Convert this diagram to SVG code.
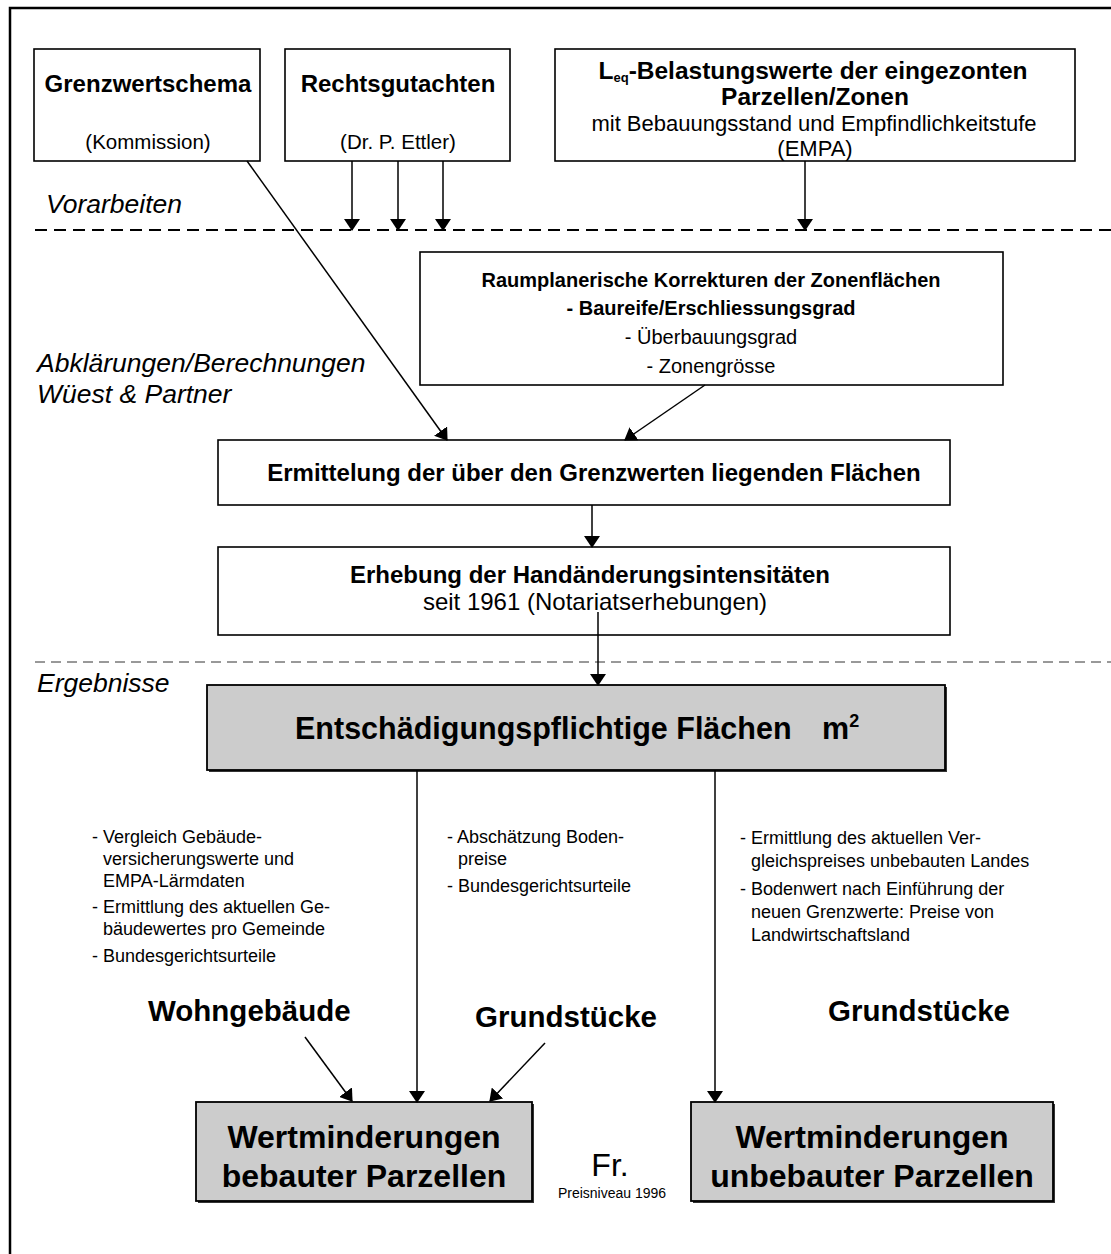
<svg xmlns="http://www.w3.org/2000/svg" width="1111" height="1254" viewBox="0 0 1111 1254">
  <style>
    .box { fill: #ffffff; stroke: #000000; stroke-width: 1.6; }
    .grey { fill: #cccccc; stroke: #000000; stroke-width: 1.8; }
    .shadow { fill: #333333; }
    .conn { stroke: #000000; stroke-width: 1.5; fill: none; }
    .t { font-family: "Liberation Sans", Arial, sans-serif; fill: #000000; }
    .b { font-weight: bold; }
    .i { font-style: italic; }
    .c { text-anchor: middle; }
    .phase { font-size: 26.5px; }
    .item { font-size: 18px; }
    .label { font-size: 29.5px; font-weight: bold; }
  </style>
  <defs>
    <marker id="arrow" markerWidth="12" markerHeight="16" refX="11" refY="8" orient="auto" markerUnits="userSpaceOnUse">
      <path d="M0,0 L12,8 L0,16 Z" fill="#000000"/>
    </marker>
  </defs>

  <rect width="1111" height="1254" fill="#ffffff"/>
  <!-- outer frame, open to the right and bottom -->
  <rect x="10" y="8" width="1120" height="1270" fill="none" stroke="#000000" stroke-width="2.5"/>

  <!-- phase separators -->
  <line x1="35" y1="230" x2="1111" y2="230" stroke="#000000" stroke-width="2" stroke-dasharray="12,7"/>
  <line x1="35" y1="662" x2="1111" y2="662" stroke="#333333" stroke-width="1" stroke-dasharray="10,6"/>

  <!-- phase labels -->
  <text class="t i phase" x="46" y="213">Vorarbeiten</text>
  <text class="t i phase" x="37" y="372">Abklärungen/Berechnungen</text>
  <text class="t i phase" x="37" y="403">Wüest &amp; Partner</text>
  <text class="t i phase" x="37" y="692">Ergebnisse</text>

  <g id="grenzwertschema">
    <rect class="box" x="34" y="49" width="226" height="112"/>
    <text class="t b c" x="148" y="92" font-size="24">Grenzwertschema</text>
    <text class="t c" x="148" y="149" font-size="20.5">(Kommission)</text>
  </g>

  <g id="rechtsgutachten">
    <rect class="box" x="285" y="49" width="225" height="112"/>
    <text class="t b c" x="398" y="92" font-size="24">Rechtsgutachten</text>
    <text class="t c" x="398" y="149" font-size="20.5">(Dr. P. Ettler)</text>
  </g>

  <g id="belastungswerte">
    <rect class="box" x="555" y="49" width="520" height="112"/>
    <text class="t b c" x="813" y="79" font-size="24.5">L<tspan font-size="13" dy="3">eq</tspan><tspan dy="-3">-Belastungswerte der eingezonten</tspan></text>
    <text class="t b c" x="815" y="105" font-size="24.5">Parzellen/Zonen</text>
    <text class="t c" x="814" y="131" font-size="22">mit Bebauungsstand und Empfindlichkeitstufe</text>
    <text class="t c" x="815" y="156" font-size="22">(EMPA)</text>
  </g>

  <g id="raumplanung">
    <rect class="box" x="420" y="252" width="583" height="133"/>
    <text class="t b c" x="711" y="287" font-size="20">Raumplanerische Korrekturen der Zonenflächen</text>
    <text class="t b c" x="711" y="315" font-size="20">- Baureife/Erschliessungsgrad</text>
    <text class="t c" x="711" y="344" font-size="20">- Überbauungsgrad</text>
    <text class="t c" x="711" y="373" font-size="20">- Zonengrösse</text>
  </g>

  <g id="ermittelung">
    <rect class="box" x="218" y="440" width="732" height="65"/>
    <text class="t b c" x="594" y="481" font-size="24">Ermittelung der über den Grenzwerten liegenden Flächen</text>
  </g>

  <g id="erhebung">
    <rect class="box" x="218" y="547" width="732" height="88"/>
    <text class="t b c" x="590" y="583" font-size="24">Erhebung der Handänderungsintensitäten</text>
    <text class="t c" x="595" y="610" font-size="24">seit 1961 (Notariatserhebungen)</text>
  </g>

  <g id="entschaedigung">
    <rect class="shadow" x="209" y="687" width="738" height="85"/>
    <rect class="grey" x="207" y="685" width="738" height="85"/>
    <text class="t b" x="295" y="739" font-size="30.5">Entschädigungspflichtige Flächen</text>
    <text class="t b" x="822" y="739" font-size="30.5">m<tspan font-size="18" dy="-12">2</tspan></text>
  </g>

  <g id="massnahmen-bebaut">
    <text class="t item" x="92" y="843">- Vergleich Gebäude-</text>
    <text class="t item" x="103" y="865">versicherungswerte und</text>
    <text class="t item" x="103" y="887">EMPA-Lärmdaten</text>
    <text class="t item" x="92" y="913">- Ermittlung des aktuellen Ge-</text>
    <text class="t item" x="103" y="935">bäudewertes pro Gemeinde</text>
    <text class="t item" x="92" y="962">- Bundesgerichtsurteile</text>
  </g>

  <g id="massnahmen-boden">
    <text class="t item" x="447" y="843">- Abschätzung Boden-</text>
    <text class="t item" x="458" y="865">preise</text>
    <text class="t item" x="447" y="892">- Bundesgerichtsurteile</text>
  </g>

  <g id="massnahmen-unbebaut">
    <text class="t item" x="740" y="844">- Ermittlung des aktuellen Ver-</text>
    <text class="t item" x="751" y="867">gleichspreises unbebauten Landes</text>
    <text class="t item" x="740" y="895">- Bodenwert nach Einführung der</text>
    <text class="t item" x="751" y="918">neuen Grenzwerte: Preise von</text>
    <text class="t item" x="751" y="941">Landwirtschaftsland</text>
  </g>

  <g id="wohngebaeude">
    <text class="t label" x="148" y="1021">Wohngebäude</text>
  </g>
  <g id="grundstuecke-bebaut">
    <text class="t label" x="475" y="1027">Grundstücke</text>
  </g>
  <g id="grundstuecke-unbebaut">
    <text class="t label" x="828" y="1021">Grundstücke</text>
  </g>

  <g id="wertminderung-bebaut">
    <rect class="shadow" x="198" y="1104" width="336" height="99"/>
    <rect class="grey" x="196" y="1102" width="336" height="99"/>
    <text class="t b c" x="364" y="1148" font-size="32">Wertminderungen</text>
    <text class="t b c" x="364" y="1187" font-size="32">bebauter Parzellen</text>
  </g>

  <g id="preisniveau">
    <text class="t c" x="610" y="1176" font-size="32">Fr.</text>
    <text class="t c" x="612" y="1198" font-size="14">Preisniveau 1996</text>
  </g>

  <g id="wertminderung-unbebaut">
    <rect class="shadow" x="693" y="1104" width="362" height="99"/>
    <rect class="grey" x="691" y="1102" width="362" height="99"/>
    <text class="t b c" x="872" y="1148" font-size="32">Wertminderungen</text>
    <text class="t b c" x="872" y="1187" font-size="32">unbebauter Parzellen</text>
  </g>

  <g id="connectors">
    <line class="conn" x1="247" y1="161" x2="447" y2="440" marker-end="url(#arrow)"/>
    <line class="conn" x1="352" y1="161" x2="352" y2="230" marker-end="url(#arrow)"/>
    <line class="conn" x1="398" y1="161" x2="398" y2="230" marker-end="url(#arrow)"/>
    <line class="conn" x1="443" y1="161" x2="443" y2="230" marker-end="url(#arrow)"/>
    <line class="conn" x1="805" y1="161" x2="805" y2="230" marker-end="url(#arrow)"/>
    <line class="conn" x1="705" y1="385" x2="625" y2="440" marker-end="url(#arrow)"/>
    <line class="conn" x1="592" y1="505" x2="592" y2="547" marker-end="url(#arrow)"/>
    <line class="conn" x1="598" y1="612" x2="598" y2="685" marker-end="url(#arrow)"/>
    <line class="conn" x1="417" y1="770" x2="417" y2="1102" marker-end="url(#arrow)"/>
    <line class="conn" x1="715" y1="770" x2="715" y2="1102" marker-end="url(#arrow)"/>
    <line class="conn" x1="305" y1="1037" x2="352" y2="1101" marker-end="url(#arrow)"/>
    <line class="conn" x1="545" y1="1043" x2="490" y2="1101" marker-end="url(#arrow)"/>
  </g>
</svg>
